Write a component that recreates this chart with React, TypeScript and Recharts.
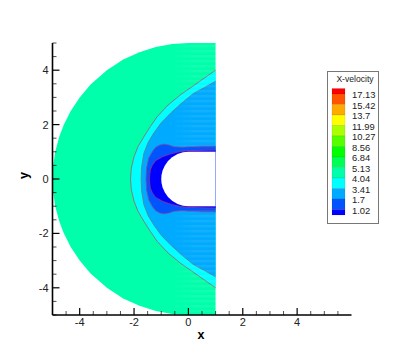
import { ComposedChart, Area, XAxis, YAxis, Legend } from 'recharts';

// outline of each contour band, upper half: x position and y half-height
const outerX = [-5, -4.98, -4.9, -4.75, -4.58, -4.33, -4, -3.6, -3, -2.4, -1.8, -1.2, -0.6, 0, 1];
const outerY = [0, 0.45, 1, 1.56, 2, 2.5, 3, 3.47, 4, 4.39, 4.66, 4.85, 4.96, 5, 5];

const shockX = [-2.13, -2.1, -2.0, -1.85, -1.64, -1.4, -1.15, -0.75, -0.3, 0.2, 0.6, 1];
const shockY = [0, 0.4, 0.82, 1.2, 1.55, 1.93, 2.29, 2.72, 3.09, 3.44, 3.72, 4];

const innerX = [-1.74, -1.72, -1.64, -1.48, -1.28, -1, -0.66, -0.25, 0.19, 0.6, 1];
const innerY = [0, 0.45, 0.94, 1.35, 1.68, 2.07, 2.42, 2.79, 3.15, 3.37, 3.6];

const band2X = [-1.56, -1.54, -1.46, -1.32, -1.2, -1.05, -0.9, -0.72, -0.54, -0.25, 0.07, 0.5, 1];
const band2Y = [0, 0.4, 0.77, 1.02, 1.17, 1.25, 1.28, 1.25, 1.19, 1.17, 1.19, 1.21, 1.21];

const band1X = [-1.43, -1.42, -1.4, -1.33, -1.21, -0.95, -0.66, -0.35, -0.05, 0.5, 1];
const band1Y = [0, 0.18, 0.33, 0.5, 0.67, 0.82, 0.92, 1, 1.04, 1.06, 1.07];

const bodyX = [-1, -0.99, -0.95, -0.87, -0.75, -0.6, -0.4, -0.2, 0, 1];
const bodyY = [0, 0.14, 0.31, 0.49, 0.66, 0.8, 0.92, 0.98, 1, 1];

// downstream part of the mesh where the grid lines show as faint horizontal stripes
const meshStarts = [-0.5, -0.2, 0.1];
const meshEnd = 1;
const meshY = 5;

const xTicks = [-5, -4.5, -4, -3.5, -3, -2.5, -2, -1.5, -1, -0.5, 0, 0.5, 1, 1.5, 2, 2.5, 3, 3.5, 4, 4.5, 5, 5.5];
const yTicks = [-5, -4.5, -4, -3.5, -3, -2.5, -2, -1.5, -1, -0.5, 0, 0.5, 1, 1.5, 2, 2.5, 3, 3.5, 4, 4.5, 5];

const legendLevels = ['17.13', '15.42', '13.7', '11.99', '10.27', '8.56', '6.84', '5.13', '4.04', '3.41', '1.7', '1.02'];
const legendColors = ['#ff0000', '#ff5500', '#ffaa00', '#ffff00', '#aaff00', '#55ff00', '#00ff00', '#00ff55', '#00ffaa', '#00ffff', '#00aaff', '#0055ff', '#0000ff'];

const FONT = '"Liberation Sans", Arial, sans-serif';

const toBand = (xs: number[], ys: number[]) => xs.map((x, i) => ({ x, range: [-ys[i], ys[i]] }));

function XTick({ x, y, payload }: any) {
  const major = payload.value % 2 === 0;
  return (
    <g>
      <line x1={x} x2={x} y1={y} y2={y - (major ? 7 : 4)} stroke="#000" strokeWidth={major ? 1.2 : 0.7} />
      {major && (
        <text x={x} y={y + 11} textAnchor="middle" dominantBaseline="auto" fontSize={11} fontFamily={FONT} fill="#222">
          {payload.value}
        </text>
      )}
    </g>
  );
}

function YTick({ x, y, payload }: any) {
  const major = payload.value % 2 === 0;
  return (
    <g>
      <line x1={x} x2={x + (major ? 7 : 4)} y1={y} y2={y} stroke="#000" strokeWidth={major ? 1.2 : 0.7} />
      {major && (
        <text x={x - 4} y={y + 4} textAnchor="end" fontSize={11} fontFamily={FONT} fill="#222">
          {payload.value}
        </text>
      )}
    </g>
  );
}

function VelocityLegend() {
  return (
    <svg width={52} height={153} style={{ display: 'block', overflow: 'visible' }}>
      <rect x={0.5} y={0.5} width={51} height={152} fill="#fff" stroke="#777" />
      <text x={28} y={11} textAnchor="middle" fontSize={8.6} fontFamily={FONT} fill="#222">
        X-velocity
      </text>
      {legendColors.map((color, i) => {
        const top = i === 0 ? 17.5 : 23 + (i - 1) * 10.5;
        const h = i === 0 || i === legendColors.length - 1 ? 5.5 : 10.5;
        return <rect key={color} x={5} y={top} width={13} height={h} fill={color} stroke="#00000033" strokeWidth={0.4} />;
      })}
      {legendLevels.map((label, i) => (
        <text key={label} x={25} y={27 + i * 10.5} fontSize={9.4} fontFamily={FONT} fill="#222">
          {label}
        </text>
      ))}
    </svg>
  );
}

export default function App() {
  return (
    <div style={{ position: 'absolute', left: 0, top: 0 }}>
      <ComposedChart width={399} height={355} margin={{ top: 43, right: 47.5, bottom: 0, left: 0 }}>
        <defs>
          <pattern id="meshStripes" width={5} height={5} patternUnits="userSpaceOnUse">
            <rect width={5} height={2.2} fill="#ffffff" fillOpacity={0.025} />
          </pattern>
        </defs>
        <XAxis
          dataKey="x"
          type="number"
          domain={[-5, 6]}
          ticks={xTicks}
          interval={0}
          height={40}
          tickSize={0}
          tickMargin={0}
          tickLine={false}
          tick={<XTick />}
          axisLine={{ stroke: '#000', strokeWidth: 1.6 }}
          allowDataOverflow
          label={{ value: 'x', position: 'insideBottom', offset: 16, dx: -1, fontSize: 12.5, fontWeight: 700, fontFamily: FONT, fill: '#000' }}
        />
        <YAxis
          type="number"
          domain={[-5, 5]}
          ticks={yTicks}
          interval={0}
          width={52.5}
          tickSize={0}
          tickMargin={0}
          tickLine={false}
          tick={<YTick />}
          axisLine={{ stroke: '#000', strokeWidth: 1.6 }}
          allowDataOverflow
          label={{ value: 'y', angle: -90, position: 'insideLeft', offset: 24, fontSize: 12.5, fontWeight: 700, fontFamily: FONT, fill: '#000' }}
        />
        <Area data={toBand(outerX, outerY)} dataKey="range" type="linear" fill="#00ffaa" fillOpacity={1} stroke="none" dot={false} activeDot={false} isAnimationActive={false} />
        <Area data={toBand(shockX, shockY)} dataKey="range" type="linear" fill="#00ffff" fillOpacity={1} stroke="#a0605f" strokeWidth={0.8} dot={false} activeDot={false} isAnimationActive={false} />
        <Area data={toBand(innerX, innerY)} dataKey="range" type="linear" fill="#00aaff" fillOpacity={1} stroke="#5f7f8f" strokeWidth={0.8} dot={false} activeDot={false} isAnimationActive={false} />
        <Area data={toBand(band2X, band2Y)} dataKey="range" type="linear" fill="#0055ff" fillOpacity={1} stroke="#7a4fa0" strokeWidth={0.8} dot={false} activeDot={false} isAnimationActive={false} />
        <Area data={toBand(band1X, band1Y)} dataKey="range" type="linear" fill="#0000ff" fillOpacity={1} stroke="#a02a80" strokeWidth={0.8} dot={false} activeDot={false} isAnimationActive={false} />
        <Area data={toBand(bodyX, bodyY)} dataKey="range" type="linear" fill="#ffffff" fillOpacity={1} stroke="none" dot={false} activeDot={false} isAnimationActive={false} />
        {meshStarts.map((start) => (
          <Area key={start} data={toBand([start, meshEnd], [meshY, meshY])} dataKey="range" type="linear" fill="url(#meshStripes)" fillOpacity={1} stroke="none" dot={false} activeDot={false} isAnimationActive={false} />
        ))}
        <Legend content={<VelocityLegend />} wrapperStyle={{ position: 'absolute', left: 327, top: 71, bottom: 'auto', width: 0, height: 0 }} />
      </ComposedChart>
    </div>
  );
}
